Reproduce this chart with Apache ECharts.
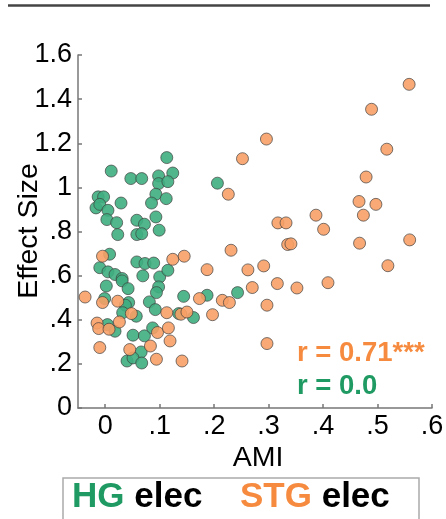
<!DOCTYPE html>
<html><head><meta charset="utf-8">
<script src="https://cdn.jsdelivr.net/npm/echarts@6/dist/echarts.min.js"></script>
<style>html,body{margin:0;padding:0;background:#fff}#c{width:446px;height:519px}</style>
</head><body><div id="c"></div>
<script>
const xTicks = [0, 0.1, 0.2, 0.3, 0.4, 0.5, 0.6];
const yTicks = [0, 0.2, 0.4, 0.6, 0.8, 1.0, 1.2, 1.4, 1.6];
const hgX = [0.113,0.011,0.047,0.067,0.098,0.098,0.124,0.115,0.093,0.112,0.085,-0.013,-0.003,-0.017,-0.010,0.005,0.029,0.003,0.021,0.023,0.058,0.072,0.058,0.067,0.093,0.099,0.008,-0.010,0.005,0.018,0.031,0.058,0.073,0.089,0.069,0.100,0.115,0.031,0.002,0.042,0.098,0.094,-0.001,0.043,0.037,0.032,0.057,0.081,0.092,0.144,0.187,0.135,0.162,0.004,0.018,0.051,0.072,0.087,0.066,0.040,0.051,0.067,0.206,0.243];
const hgY = [1.135,1.074,1.04,1.04,1.052,1.017,1.065,1.026,0.969,0.949,0.929,0.957,0.957,0.907,0.923,0.896,0.929,0.854,0.840,0.786,0.851,0.833,0.786,0.790,0.866,0.806,0.697,0.636,0.617,0.605,0.587,0.662,0.655,0.657,0.599,0.594,0.624,0.576,0.553,0.541,0.549,0.523,0.496,0.478,0.466,0.432,0.416,0.481,0.446,0.506,0.511,0.428,0.410,0.378,0.348,0.330,0.327,0.363,0.254,0.213,0.227,0.204,1.019,0.523];
const stgX = [-0.005,0.124,0.145,0.187,-0.037,-0.005,0.023,0.048,0.173,0.113,0.139,0.150,0.197,-0.015,-0.012,0.007,0.026,0.096,0.116,0.119,-0.010,0.045,0.083,0.094,0.141,0.558,0.489,0.517,0.296,0.252,0.226,0.479,0.466,0.497,0.474,0.387,0.401,0.317,0.332,0.335,0.341,0.467,0.559,0.231,0.262,0.291,0.519,0.316,0.352,0.409,0.270,0.215,0.228,0.297,0.297];
const stgY = [0.688,0.674,0.688,0.627,0.503,0.478,0.484,0.428,0.496,0.432,0.425,0.435,0.423,0.385,0.360,0.357,0.390,0.342,0.363,0.304,0.274,0.265,0.281,0.221,0.213,1.467,1.354,1.173,1.219,1.130,0.969,1.047,0.936,0.923,0.874,0.874,0.810,0.839,0.839,0.741,0.744,0.747,0.762,0.715,0.626,0.644,0.645,0.564,0.544,0.568,0.546,0.488,0.478,0.466,0.292];
const rTexts = ['r = 0.71***', 'r = 0.0'];
const legendNames = ['HG', 'STG'];
const axisNames = ['AMI', 'Effect Size'];

const GREEN = '#3fae7f', ORANGE = '#f7a066', GTXT = '#1e9a62', OTXT = '#f68b3f';
const fmt = v => { if (Math.abs(v) < 1e-9) return '0'; let s = (+v.toFixed(1)).toString(); return s.startsWith('0.') ? s.slice(1) : s; };
const zip = (a, b) => a.map((v, i) => [v, b[i]]);
const chart = echarts.init(document.getElementById('c'));
const axisLineStyle = { color: '#777', width: 1.5 };
const F = '"Liberation Sans", Arial, sans-serif';
chart.setOption({
  animation: false,
  grid: { left: 78, right: 14, top: 55, bottom: 111, containLabel: false, outerBoundsMode: 'none' },
  xAxis: {
    type: 'value', min: -0.05, max: 0.6,
    axisLine: { onZero: false, lineStyle: axisLineStyle },
    axisTick: { inside: true, length: 4, lineStyle: axisLineStyle, customValues: xTicks },
    axisLabel: { customValues: xTicks, formatter: fmt, fontFamily: F, fontSize: 27, color: '#000', margin: 5 },
    splitLine: { show: false }
  },
  yAxis: {
    type: 'value', min: 0, max: 1.6, interval: 0.2,
    axisLine: { show: true, onZero: false, lineStyle: axisLineStyle },
    axisTick: { show: true, inside: true, length: 4, lineStyle: axisLineStyle },
    axisLabel: { formatter: fmt, fontFamily: F, fontSize: 27, color: '#000', margin: 6 },
    splitLine: { show: false }
  },
  series: [
    { type: 'scatter', data: zip(hgX, hgY), symbolSize: 12,
      itemStyle: { color: GREEN, opacity: 0.9, borderColor: 'rgba(60,60,60,0.75)', borderWidth: 1 } },
    { type: 'scatter', data: zip(stgX, stgY), symbolSize: 12,
      itemStyle: { color: ORANGE, opacity: 0.9, borderColor: 'rgba(60,60,60,0.75)', borderWidth: 1 } }
  ],
  graphic: [
    { type: 'line', shape: { x1: 8, y1: 5.5, x2: 430, y2: 5.5 }, style: { stroke: '#444', lineWidth: 2.5 } },
    { type: 'text', x: 258, y: 458, style: { text: axisNames[0], fill: '#000', font: '28.5px ' + F, textAlign: 'center', textVerticalAlign: 'middle' } },
    { type: 'text', x: 29, y: 231, rotation: Math.PI / 2, style: { text: axisNames[1], fill: '#000', font: '28.5px ' + F, textAlign: 'center', textVerticalAlign: 'middle' } },
    { type: 'text', x: 297, y: 339, style: { text: rTexts[0], fill: OTXT, font: 'bold 27.5px ' + F } },
    { type: 'text', x: 297, y: 372, style: { text: rTexts[1], fill: GTXT, font: 'bold 27.5px ' + F } },
    { type: 'rect', shape: { x: 63, y: 478, width: 356, height: 60 }, style: { fill: '#fff', stroke: '#aaa', lineWidth: 1.5 } },
    { type: 'text', x: 72, y: 480, style: {
      text: '{c|' + legendNames[0] + '} {k|elec}',
      rich: { c: { fill: GTXT, font: 'bold 35px ' + F }, k: { fill: '#000', font: 'bold 35px ' + F } },
      font: 'bold 35px ' + F } },
    { type: 'text', x: 240, y: 480, style: {
      text: '{c|' + legendNames[1] + '} {k|elec}',
      rich: { c: { fill: OTXT, font: 'bold 35px ' + F }, k: { fill: '#000', font: 'bold 35px ' + F } },
      font: 'bold 35px ' + F } }
  ]
});
</script></body></html>
